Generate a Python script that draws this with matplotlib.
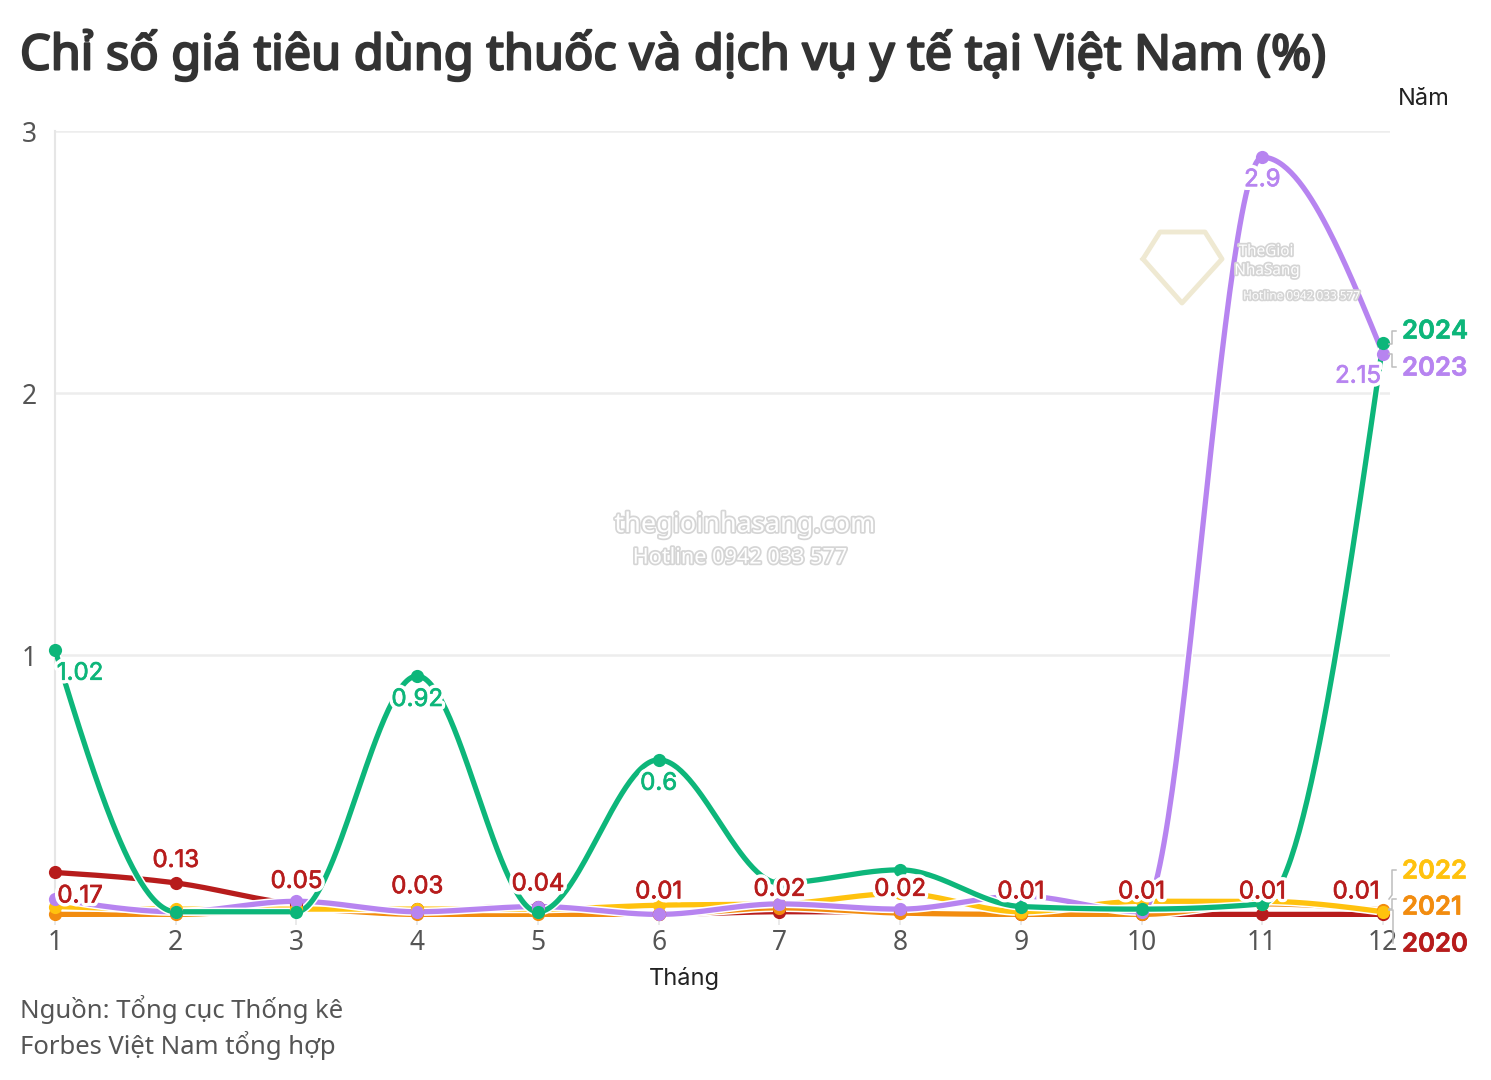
"""
plot.py
Chi so gia tieu dung thuoc va dich vu y te tai Viet Nam, 2020-2024.
Saves out.png at 1491x1080.
"""

import numpy as np
import matplotlib
matplotlib.use("Agg")
import matplotlib.pyplot as plt
import matplotlib.patheffects as pe

############################################################
# Data
############################################################

MONTHS = [1, 2, 3, 4, 5, 6, 7, 8, 9, 10, 11, 12]

Y2020 = [0.17, 0.13, 0.05, 0.03, 0.04, 0.01, 0.02, 0.02, 0.01, 0.01, 0.01, 0.01]
Y2021 = [0.01, 0.01, 0.03, 0.01, 0.01, 0.01, 0.035, 0.015, 0.01, 0.01, 0.05, 0.027]
Y2022 = [0.04, 0.03, 0.03, 0.03, 0.03, 0.045, 0.05, 0.09, 0.02, 0.06, 0.06, 0.02]
Y2023 = [0.07, 0.02, 0.06, 0.02, 0.04, 0.01, 0.05, 0.03, 0.08, 0.02, 2.90, 2.15]
Y2024 = [1.02, 0.02, 0.02, 0.92, 0.02, 0.60, 0.13, 0.18, 0.04, 0.03, 0.05, 2.19]

YEARS = ["2020", "2021", "2022", "2023", "2024"]
COLORS = ["#B71C1C", "#F28C0F", "#FFC20E", "#B784F0", "#0DB67A"]

Y_TICKS = [1, 2, 3]

TITLE = "Chỉ số giá tiêu dùng thuốc và dịch vụ y tế tại Việt Nam (%)"
SOURCE = ["Nguồn: Tổng cục Thống kê", "Forbes Việt Nam tổng hợp"]

############################################################
# Layout (pixels)
############################################################

W, H = 1491, 1080
AX_L, AX_R, AX_T, AX_B = 55, 1390, 131, 917
PX_PER_MONTH = (1383 - 55) / 11

TEXT_FONT = ["Noto Sans", "DejaVu Sans"]
LABEL_FONT = ["Inter", "Noto Sans", "DejaVu Sans"]


def fx(px):
    return px / W


def fy(py):
    return 1 - py / H


def monotone(xs, ys, n=60):
    # same idea as d3.curveMonotoneX: flat at local extremes, no overshoot
    xs = np.asarray(xs, dtype=float)
    ys = np.asarray(ys, dtype=float)
    h = np.diff(xs)
    s = np.diff(ys) / h
    m = np.zeros(len(xs))
    for i in range(1, len(xs) - 1):
        if s[i - 1] * s[i] > 0:
            p = (s[i - 1] * h[i] + s[i] * h[i - 1]) / (h[i - 1] + h[i])
            m[i] = np.sign(s[i]) * min(abs(s[i - 1]), abs(s[i]), 0.5 * abs(p)) * 2
    m[0] = (3 * s[0] - m[1]) / 2
    m[-1] = (3 * s[-1] - m[-2]) / 2
    out_x, out_y = [], []
    for i in range(len(xs) - 1):
        t = np.linspace(0, 1, n)
        out_x.append(xs[i] + t * h[i])
        out_y.append(
            (2 * t**3 - 3 * t**2 + 1) * ys[i]
            + (t**3 - 2 * t**2 + t) * h[i] * m[i]
            + (-2 * t**3 + 3 * t**2) * ys[i + 1]
            + (t**3 - t**2) * h[i] * m[i + 1]
        )
    return np.concatenate(out_x), np.concatenate(out_y)


def heavy(color, width):
    # the installed Noto/Inter only come out regular, so thicken with a stroke
    return pe.withStroke(linewidth=width, foreground=color)


############################################################
# Figure
############################################################

fig = plt.figure(figsize=(W / 100, H / 100), dpi=100, facecolor="white")
ax = fig.add_axes([fx(AX_L), fy(AX_B), (AX_R - AX_L) / W, (AX_B - AX_T) / H])
ax.set_xlim(1, 1 + (AX_R - AX_L) / PX_PER_MONTH)
ax.set_ylim(0, 3)

for side in ["top", "right", "bottom"]:
    ax.spines[side].set_visible(False)
ax.spines["left"].set_color("#E6E6E6")
ax.spines["left"].set_linewidth(1.5)

ax.set_xticks(MONTHS)
ax.set_yticks(Y_TICKS)
ax.tick_params(axis="x", length=6, width=1.2, color="#E6E6E6", pad=3,
               labelsize=19, labelcolor="#555555")
ax.tick_params(axis="y", length=0, pad=13, labelsize=19, labelcolor="#555555")
for lab in ax.get_xticklabels() + ax.get_yticklabels():
    lab.set_fontfamily(TEXT_FONT)
ax.grid(axis="y", color="#EDEDED", linewidth=1.8)
ax.set_axisbelow(True)

# ── Lines ─────────────────────────────────────────────────
series = [Y2020, Y2021, Y2022, Y2023, Y2024]
halo = [pe.Stroke(linewidth=6, foreground="white"), pe.Normal()]

for vals, color in zip(series, COLORS):
    cx, cy = monotone(MONTHS, vals)
    ax.plot(cx, cy, color=color, linewidth=3.8, solid_capstyle="round",
            path_effects=halo, zorder=3)
for vals, color in zip(series, COLORS):
    ax.plot(MONTHS, vals, "o", color=color, markersize=9.5, markeredgewidth=0,
            clip_on=False, zorder=4)


# ── Value labels ──────────────────────────────────────────
def value_label(i, vals, color, dx, dy):
    v = vals[i]
    ax.annotate(f"{v:g}", (MONTHS[i], v), xytext=(dx * 0.72, dy * 0.72),
                textcoords="offset points", ha="center", va="center",
                fontsize=17.3, color=color, family=LABEL_FONT,
                path_effects=[pe.Stroke(linewidth=5.5, foreground="white"),
                              pe.Stroke(linewidth=0.5, foreground=color),
                              pe.Normal()],
                zorder=6, annotation_clip=False)


for i in range(len(MONTHS)):
    dx = {0: 25, 11: -27}.get(i, 0)
    dy = 22 if i else -24
    value_label(i, Y2020, COLORS[0], dx, dy)
value_label(10, Y2023, COLORS[3], 0, -23)
value_label(11, Y2023, COLORS[3], -25, -23)
value_label(0, Y2024, COLORS[4], 25, -24)
value_label(3, Y2024, COLORS[4], 0, -24)
value_label(5, Y2024, COLORS[4], 0, -24)

# ── Direct year labels + brackets ─────────────────────────
year_y = [945, 908, 872, 369, 332]
for year, color, py in zip(YEARS, COLORS, year_y):
    fig.text(fx(1402), fy(py), year, color=color, fontsize=18.5, fontweight="semibold",
             family=LABEL_FONT, ha="left", va="center",
             path_effects=[heavy(color, 0.5)])

brackets = [
    ([1393, 1393, 1389], [943, 910, 910]),
    ([1396, 1392, 1392, 1389], [870, 870, 895, 899]),
    ([1396, 1392, 1392, 1389], [899, 899, 909, 909]),
    ([1396, 1392, 1392, 1389], [331, 331, 344, 344]),
    ([1396, 1392, 1392, 1389], [367, 367, 354, 354]),
]
for bx, by in brackets:
    fig.add_artist(plt.Line2D([fx(p) for p in bx], [fy(p) for p in by],
                              color="#BDBDBD", linewidth=1.1, zorder=1))

# ── Text ──────────────────────────────────────────────────
fig.text(fx(20), fy(55), TITLE, fontsize=35, color="#333333",
         family=TEXT_FONT, ha="left", va="center",
         path_effects=[heavy("#333333", 1.6)])
fig.text(fx(1424), fy(99), "Năm", fontsize=17, color="#222222",
         family=LABEL_FONT, ha="center", va="center")
fig.text(fx(684), fy(979), "Tháng", fontsize=17, color="#222222",
         family=LABEL_FONT, ha="center", va="center")
for line, py in zip(SOURCE, [1009, 1045]):
    fig.text(fx(20), fy(py), line, fontsize=18.5, color="#555555",
             family=TEXT_FONT, ha="left", va="center")

# ── Watermark ─────────────────────────────────────────────
wm_halo = [pe.withStroke(linewidth=2.5, foreground="#D5D5D5")]
wm_texts = [
    (745, 525, "thegioinhasang.com", 19.5),
    (740, 558, "Hotline 0942 033 577", 15.6),
    (1266, 252, "TheGioi", 11),
    (1267, 271, "NhaSang", 11),
    (1302, 296, "Hotline 0942 033 577", 8.5),
]
for px, py, txt, size in wm_texts:
    fig.text(fx(px), fy(py), txt, fontsize=size, color="white", family=TEXT_FONT,
             ha="center", va="center", path_effects=wm_halo, zorder=2)

logo_x = [1143, 1160, 1205, 1222, 1182, 1143]
logo_y = [259, 232, 232, 259, 303, 259]
fig.add_artist(plt.Line2D([fx(p) for p in logo_x], [fy(p) for p in logo_y],
                          color="#EFE9D2", linewidth=3.5, zorder=2))

fig.savefig("out.png", dpi=100, facecolor="white")
